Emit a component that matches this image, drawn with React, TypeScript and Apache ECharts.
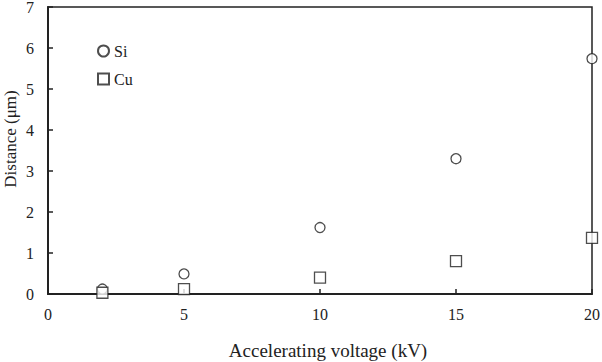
import React, { useEffect, useRef } from "react";
import * as echarts from "echarts";

const voltages = [2, 5, 10, 15, 20];
const siDistance = [0.12, 0.49, 1.62, 3.3, 5.74];
const cuDistance = [0.03, 0.12, 0.4, 0.8, 1.37];
const yTitle = "Distance (μm)";
const xTitle = "Accelerating voltage (kV)";

const FONT = "Liberation Serif";
const INK = "#222";

export default function App() {
  const ref = useRef<HTMLDivElement>(null);
  useEffect(() => {
    if (!ref.current) return;
    const chart = echarts.init(ref.current, null, { renderer: "svg" });
    chart.setOption({
      animation: false,
      backgroundColor: "#fff",
      textStyle: { fontFamily: FONT, color: INK },
      grid: {
        left: 48,
        right: 10,
        top: 7,
        bottom: 68,
        outerBoundsMode: "none",
        show: true,
        borderColor: INK,
        borderWidth: 1.5,
        backgroundColor: "transparent",
      },
      graphic: [
        {
          type: "text",
          x: 10,
          y: 139,
          rotation: Math.PI / 2,
          style: {
            text: yTitle,
            fontFamily: FONT,
            fontSize: 17,
            fill: INK,
            align: "center",
            verticalAlign: "middle",
          },
        },
      ],
      legend: {
        orient: "vertical",
        left: 92,
        top: 38,
        itemWidth: 11,
        itemHeight: 11,
        itemGap: 12,
        textStyle: { fontFamily: FONT, fontSize: 16, color: INK },
        data: [
          { name: "Si", icon: "circle" },
          { name: "Cu", icon: "rect" },
        ],
      },
      xAxis: {
        type: "value",
        min: 0,
        max: 20,
        interval: 5,
        name: xTitle,
        nameLocation: "middle",
        nameGap: 47,
        nameTextStyle: { fontFamily: FONT, fontSize: 19, color: INK, padding: [0, 0, 0, 16] },
        axisLine: { show: true, lineStyle: { color: INK, width: 2 } },
        axisTick: { show: true, inside: true, length: 5, lineStyle: { color: INK, width: 1.5 } },
        axisLabel: { fontFamily: FONT, fontSize: 16, color: INK, margin: 12 },
        splitLine: { show: false },
      },
      yAxis: {
        type: "value",
        min: 0,
        max: 7,
        interval: 1,
        axisLine: { show: true, lineStyle: { color: INK, width: 2 } },
        axisTick: { show: true, inside: true, length: 5, lineStyle: { color: INK, width: 1.5 } },
        axisLabel: { fontFamily: FONT, fontSize: 16, color: INK, margin: 14 },
        splitLine: { show: false },
      },
      series: [
        {
          name: "Si",
          type: "scatter",
          symbol: "circle",
          symbolSize: 10,
          itemStyle: { color: "#fff", borderColor: INK, borderWidth: 1.3 },
          data: voltages.map((v, i) => [v, siDistance[i]]),
          z: 3,
        },
        {
          name: "Cu",
          type: "scatter",
          symbol: "rect",
          symbolSize: 11,
          itemStyle: { color: "#fff", borderColor: INK, borderWidth: 1.3 },
          data: voltages.map((v, i) => [v, cuDistance[i]]),
          z: 4,
        },
      ],
    });
    return () => chart.dispose();
  }, []);
  return <div ref={ref} style={{ width: 602, height: 362 }} />;
}

const _style = document.createElement("style");
_style.textContent = "body{margin:0}";
document.head.appendChild(_style);
